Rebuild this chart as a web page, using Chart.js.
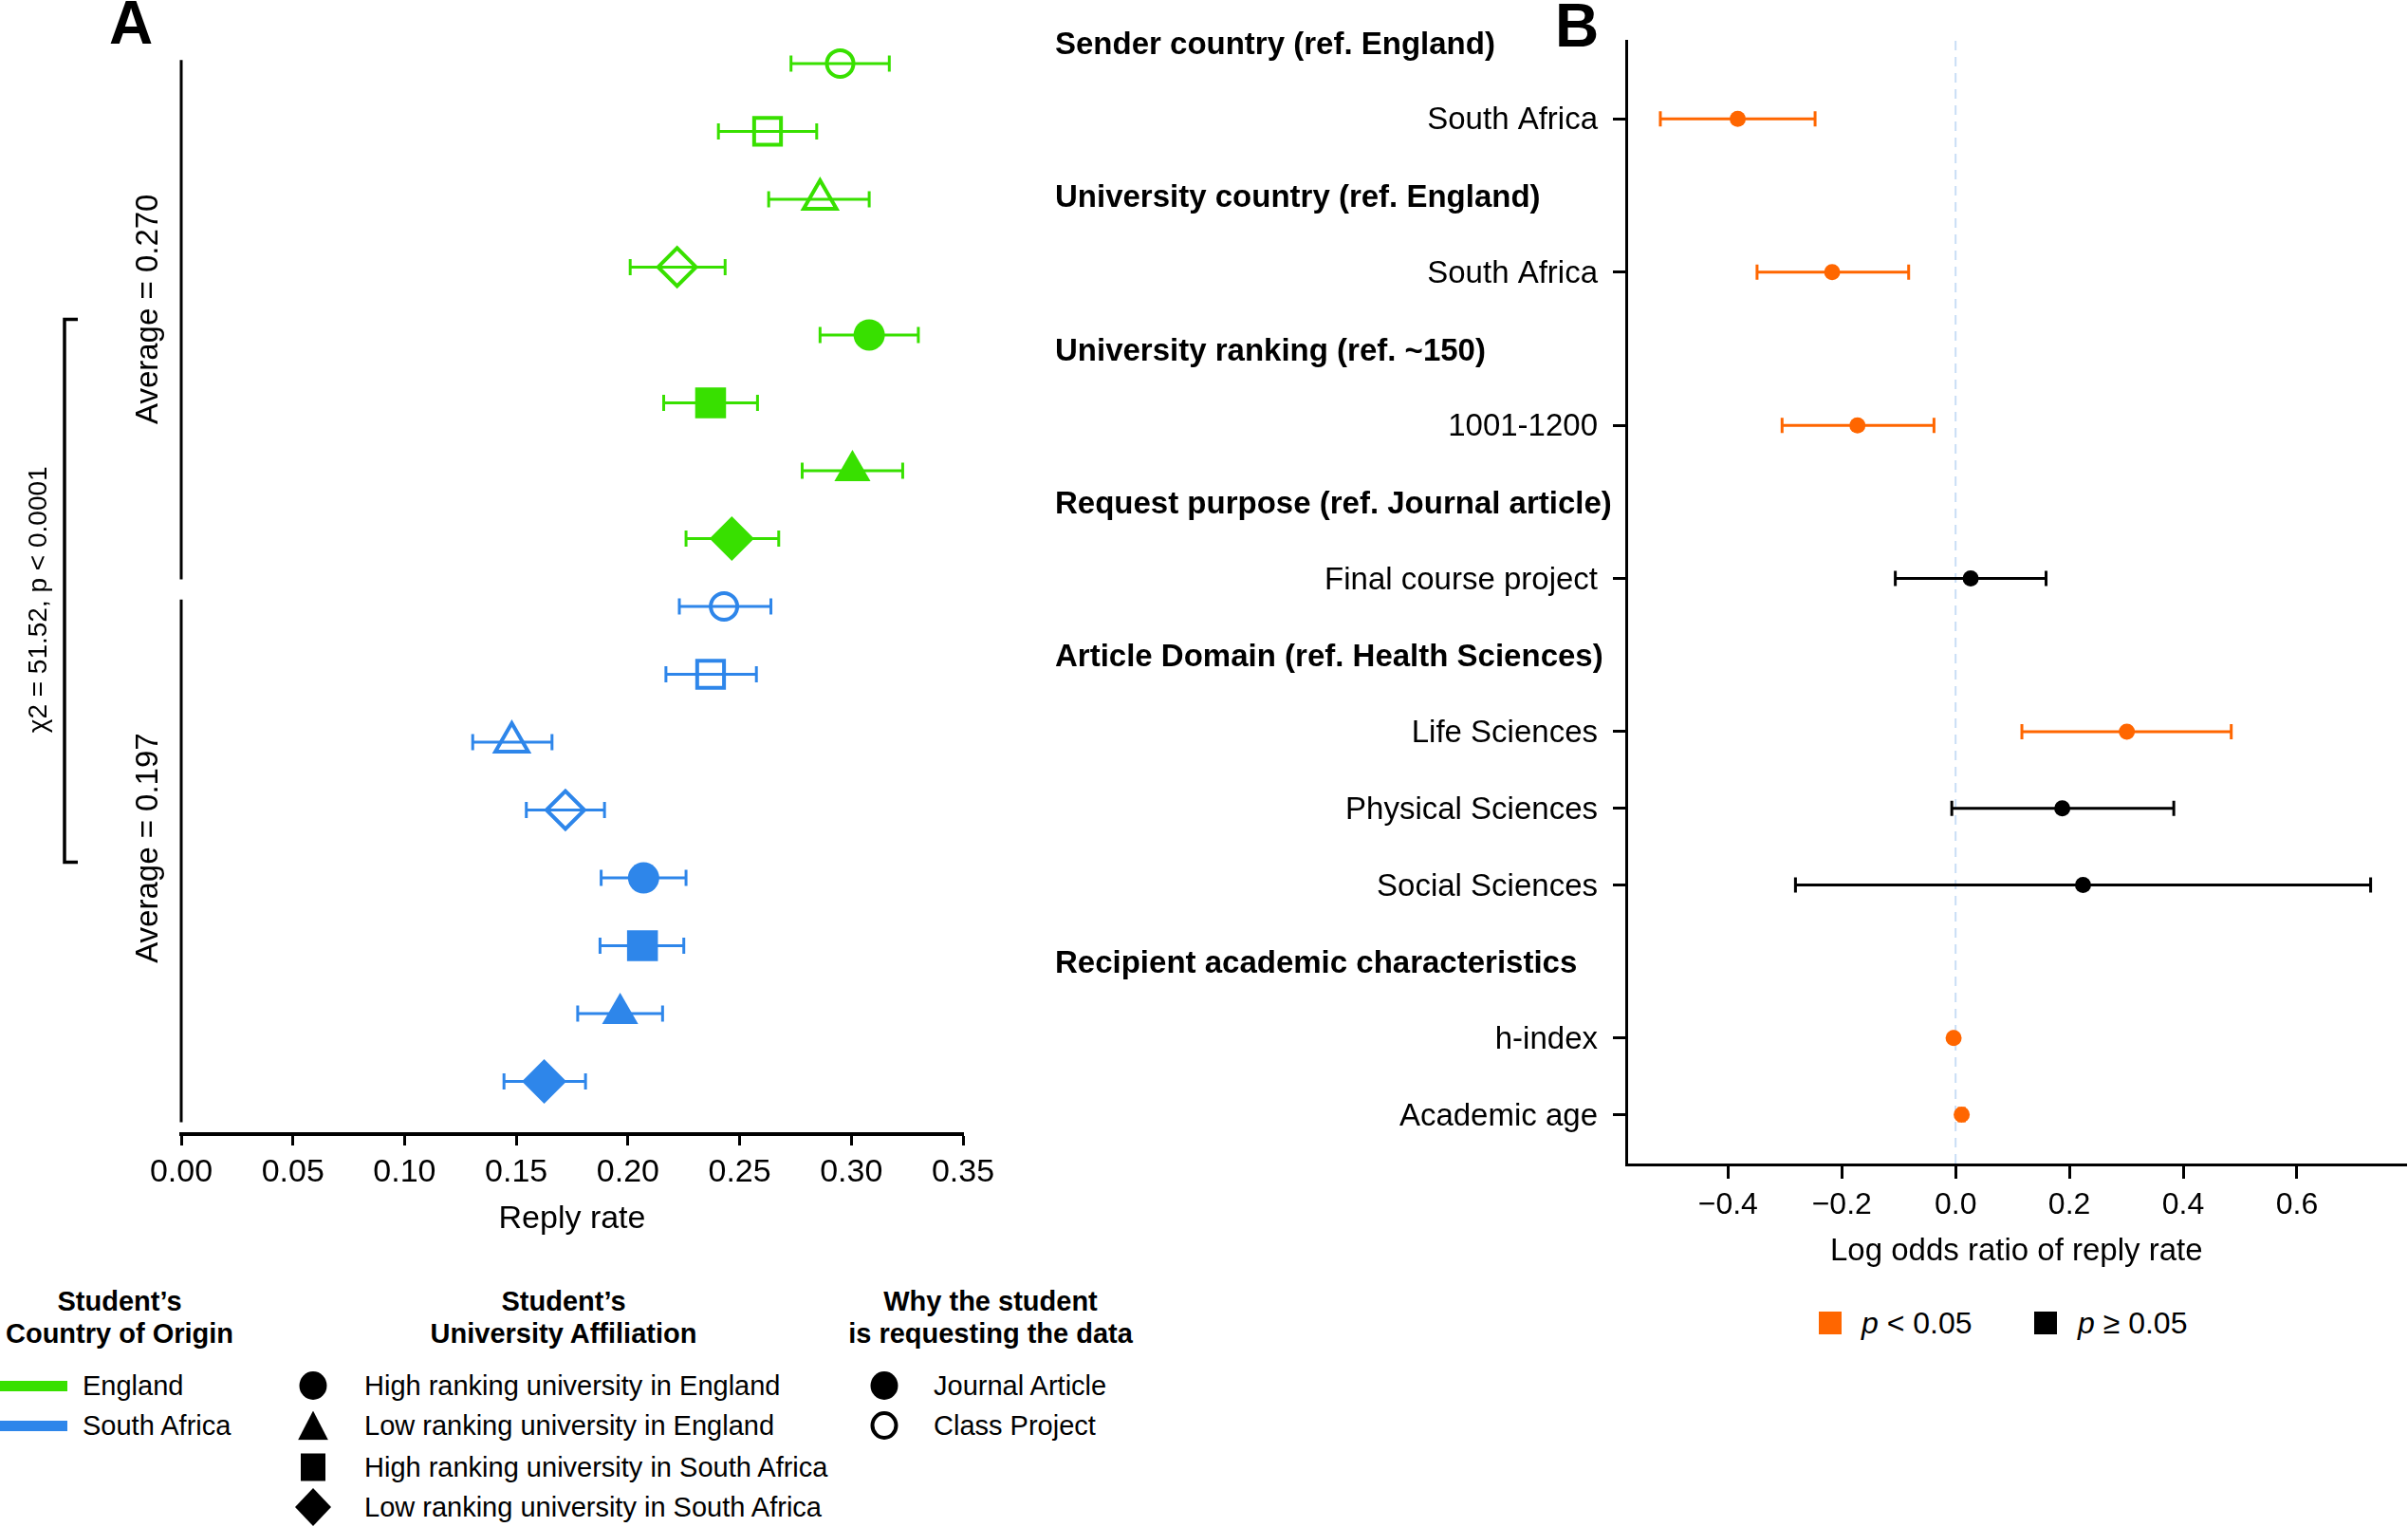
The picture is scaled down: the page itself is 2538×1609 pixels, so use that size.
<!DOCTYPE html>
<html>
<head>
<meta charset="utf-8">
<title>Reply rate to data requests</title>
<script src="https://cdn.jsdelivr.net/npm/chart.js@4.4.1/dist/chart.umd.min.js"></script>
<style>
  html, body { margin: 0; padding: 0; background: #fff; }
  body { position: relative; width: 2538px; height: 1609px; overflow: hidden;
         font-family: 'Liberation Sans', Arial, Helvetica, sans-serif; color: #000; }
  canvas { position: absolute; top: 0; }
  #chart-a { left: 0; }
  #chart-b { left: 1060px; }
  .panel { position: absolute; font-weight: bold; font-size: 64px; line-height: 1; }
  .lg-title { position: absolute; font-size: 29px; font-weight: bold; line-height: 34px;
              text-align: center; white-space: nowrap; transform: translateX(-50%); }
  .lg { position: absolute; font-size: 29px; line-height: 1; white-space: nowrap; transform: translateY(-50%); }
  .mk { position: absolute; transform: translate(-50%, -50%); background: #000; }
  .swatch { position: absolute; }
</style>
</head>
<body>
<canvas id="chart-a" width="1060" height="1308"></canvas>
<canvas id="chart-b" width="1485" height="1340"></canvas>

<div class="panel" style="left:115px;top:-8px">A</div>
<div class="panel" style="left:1639px;top:-5px">B</div>

<!-- legend, panel A -->
<div class="lg-title" style="left:126px;top:1354px">Student’s<br>Country of Origin</div>
<div class="swatch" style="left:0;top:1455px;width:71px;height:11px;background:#38e000"></div>
<div class="lg" style="left:87px;top:1460px">England</div>
<div class="swatch" style="left:0;top:1497px;width:71px;height:11px;background:#2e86ea"></div>
<div class="lg" style="left:87px;top:1502px">South Africa</div>

<div class="lg-title" style="left:594px;top:1354px">Student’s<br>University Affiliation</div>
<div class="mk" style="left:330px;top:1460px;width:29px;height:30px;border-radius:50%"></div>
<div class="lg" style="left:384px;top:1460px">High ranking university in England</div>
<div class="mk" style="left:330px;top:1502px;width:32px;height:31px;clip-path:polygon(50% 0,100% 100%,0 100%)"></div>
<div class="lg" style="left:384px;top:1502px">Low ranking university in England</div>
<div class="mk" style="left:330px;top:1546px;width:26px;height:29px"></div>
<div class="lg" style="left:384px;top:1546px">High ranking university in South Africa</div>
<div class="mk" style="left:330px;top:1588px;width:38px;height:40px;clip-path:polygon(50% 0,100% 50%,50% 100%,0 50%)"></div>
<div class="lg" style="left:384px;top:1588px">Low ranking university in South Africa</div>

<div class="lg-title" style="left:1044px;top:1354px">Why the student<br>is requesting the data</div>
<div class="mk" style="left:932px;top:1460px;width:29px;height:30px;border-radius:50%"></div>
<div class="lg" style="left:984px;top:1460px">Journal Article</div>
<div class="mk" style="left:932px;top:1502px;width:29px;height:30px;border-radius:50%;background:#fff;border:4px solid #000;box-sizing:border-box"></div>
<div class="lg" style="left:984px;top:1502px">Class Project</div>

<!-- legend, panel B -->
<div class="mk" style="left:1929px;top:1394px;width:24px;height:24px;background:#ff6600"></div>
<div class="lg" style="left:1962px;top:1394px;font-size:32px"><i>p</i> &lt; 0.05</div>
<div class="mk" style="left:2156px;top:1394px;width:24px;height:24px"></div>
<div class="lg" style="left:2190px;top:1394px;font-size:32px"><i>p</i> ≥ 0.05</div>

<script>
// ---- Panel A data (rows top to bottom) ----
const senderCountry = ['England', 'England', 'England', 'England', 'England', 'England', 'England', 'England',
  'South Africa', 'South Africa', 'South Africa', 'South Africa', 'South Africa', 'South Africa', 'South Africa', 'South Africa'];
const affiliation = ['HE', 'HS', 'LE', 'LS', 'HE', 'HS', 'LE', 'LS', 'HE', 'HS', 'LE', 'LS', 'HE', 'HS', 'LE', 'LS'];
const purpose = ['Class', 'Class', 'Class', 'Class', 'Journal', 'Journal', 'Journal', 'Journal',
  'Class', 'Class', 'Class', 'Class', 'Journal', 'Journal', 'Journal', 'Journal'];
const replyRate = [0.295, 0.2625, 0.286, 0.222, 0.308, 0.237, 0.3005, 0.2465,
  0.243, 0.237, 0.148, 0.172, 0.207, 0.2065, 0.1965, 0.1625];
const rateLow = [0.273, 0.2405, 0.263, 0.201, 0.286, 0.216, 0.278, 0.226,
  0.223, 0.217, 0.1305, 0.1545, 0.188, 0.1875, 0.1775, 0.1445];
const rateHigh = [0.317, 0.2845, 0.308, 0.2435, 0.330, 0.258, 0.323, 0.2675,
  0.264, 0.2575, 0.166, 0.1895, 0.226, 0.225, 0.2155, 0.181];
const rateTicks = [0, 0.05, 0.10, 0.15, 0.20, 0.25, 0.30, 0.35];
const groupAverage = ['Average = 0.270', 'Average = 0.197'];
const chiLabel = 'χ2 = 51.52, p < 0.0001';

// ---- Panel B data ----
const groupLabels = ['Sender country (ref. England)', 'University country (ref. England)',
  'University ranking (ref. ~150)', 'Request purpose (ref. Journal article)',
  'Article Domain (ref. Health Sciences)', 'Recipient academic characteristics'];
const groupRow = [0, 2, 4, 6, 8, 12];
const termLabels = ['South Africa', 'South Africa', '1001-1200', 'Final course project',
  'Life Sciences', 'Physical Sciences', 'Social Sciences', 'h-index', 'Academic age'];
const termRow = [1, 3, 5, 7, 9, 10, 11, 13, 14];
const logOdds = [-0.383, -0.217, -0.1725, 0.0265, 0.301, 0.1875, 0.224, -0.0035, 0.0107];
const oddsLow = [-0.519, -0.349, -0.305, -0.106, 0.1165, -0.0067, -0.2815, -0.0045, 0.006];
const oddsHigh = [-0.247, -0.0825, -0.038, 0.159, 0.4845, 0.3835, 0.7295, -0.0025, 0.0155];
const significant = [true, true, true, false, true, false, false, true, true];
const oddsTicks = [-0.4, -0.2, 0, 0.2, 0.4, 0.6];

const countryColor = { 'England': '#38e000', 'South Africa': '#2e86ea' };
const shapeOf = { HE: 'circle', LE: 'triangle', HS: 'rect', LS: 'rectRot' };
const filledSize = { HE: 16.5, LE: 22, HS: 23, LS: 23.5 };
const openSize = { HE: 14, LE: 20, HS: 20, LS: 20 };
const FONT = "'Liberation Sans', Arial, Helvetica, sans-serif";

Chart.defaults.font.family = FONT;
Chart.defaults.color = '#000';

// error bars + bracket/annotations for panel A
const panelAExtras = {
  id: 'panelAExtras',
  beforeDatasetsDraw(chart) {
    const { ctx, scales: { x, y } } = chart;
    ctx.save();
    ctx.lineWidth = 3;
    replyRate.forEach((v, i) => {
      const py = y.getPixelForValue(i);
      const x0 = x.getPixelForValue(rateLow[i]);
      const x1 = x.getPixelForValue(rateHigh[i]);
      ctx.strokeStyle = countryColor[senderCountry[i]];
      ctx.beginPath();
      ctx.moveTo(x0, py); ctx.lineTo(x1, py);
      ctx.moveTo(x0, py - 8.5); ctx.lineTo(x0, py + 8.5);
      ctx.moveTo(x1, py - 8.5); ctx.lineTo(x1, py + 8.5);
      ctx.stroke();
    });
    ctx.restore();
  },
  afterDraw(chart) {
    const { ctx, scales: { x, y } } = chart;
    const x0 = x.getPixelForValue(0);
    ctx.save();
    ctx.strokeStyle = '#000';
    ctx.lineWidth = 3;
    // split y axis, one segment per country
    ctx.beginPath();
    ctx.moveTo(x0, y.getPixelForValue(-0.05)); ctx.lineTo(x0, y.getPixelForValue(7.6));
    ctx.moveTo(x0, y.getPixelForValue(7.9)); ctx.lineTo(x0, y.getPixelForValue(15.6));
    ctx.stroke();
    // bracket for the chi-square test
    const bx = x0 - 123;
    const b0 = y.getPixelForValue(3.77), b1 = y.getPixelForValue(11.77);
    ctx.lineWidth = 3.5;
    ctx.beginPath();
    ctx.moveTo(bx + 14, b0); ctx.lineTo(bx, b0); ctx.lineTo(bx, b1); ctx.lineTo(bx + 14, b1);
    ctx.stroke();

    ctx.fillStyle = '#000';
    ctx.textAlign = 'center';
    ctx.textBaseline = 'middle';
    const rotText = (txt, px, py, size) => {
      ctx.save();
      ctx.translate(px, py);
      ctx.rotate(-Math.PI / 2);
      ctx.font = size + 'px ' + FONT;
      ctx.fillText(txt, 0, 0);
      ctx.restore();
    };
    rotText(groupAverage[0], x0 - 34, y.getPixelForValue(3.62), 33);
    rotText(groupAverage[1], x0 - 34, y.getPixelForValue(11.56), 33);
    rotText(chiLabel, x0 - 150, y.getPixelForValue(7.9), 28);
    ctx.restore();
  }
};

// zero line, error bars and group headers for panel B
const panelBExtras = {
  id: 'panelBExtras',
  beforeDatasetsDraw(chart) {
    const { ctx, chartArea, scales: { x, y } } = chart;
    ctx.save();
    const zx = x.getPixelForValue(0);
    ctx.strokeStyle = '#c9def6';
    ctx.lineWidth = 2;
    ctx.setLineDash([10, 7]);
    ctx.beginPath();
    ctx.moveTo(zx, chartArea.top); ctx.lineTo(zx, chartArea.bottom);
    ctx.stroke();
    ctx.setLineDash([]);
    ctx.lineWidth = 3;
    logOdds.forEach((v, i) => {
      const py = y.getPixelForValue(termRow[i]);
      const x0 = x.getPixelForValue(oddsLow[i]);
      const x1 = x.getPixelForValue(oddsHigh[i]);
      ctx.strokeStyle = significant[i] ? '#ff6600' : '#000';
      ctx.beginPath();
      ctx.moveTo(x0, py); ctx.lineTo(x1, py);
      ctx.moveTo(x0, py - 8); ctx.lineTo(x0, py + 8);
      ctx.moveTo(x1, py - 8); ctx.lineTo(x1, py + 8);
      ctx.stroke();
    });
    ctx.restore();
  },
  afterDraw(chart) {
    const { ctx, scales: { y } } = chart;
    ctx.save();
    ctx.fillStyle = '#000';
    ctx.font = 'bold 33px ' + FONT;
    ctx.textAlign = 'left';
    ctx.textBaseline = 'middle';
    groupLabels.forEach((g, i) => ctx.fillText(g, 52, y.getPixelForValue(groupRow[i]) + 3));
    ctx.restore();
  }
};

new Chart(document.getElementById('chart-a'), {
  type: 'scatter',
  data: {
    datasets: [{
      data: replyRate.map((v, i) => ({ x: v, y: i })),
      pointStyle: affiliation.map(a => shapeOf[a]),
      pointRadius: affiliation.map((a, i) => purpose[i] === 'Journal' ? filledSize[a] : openSize[a]),
      pointBackgroundColor: senderCountry.map((c, i) => purpose[i] === 'Journal' ? countryColor[c] : 'rgba(0,0,0,0)'),
      pointBorderColor: senderCountry.map(c => countryColor[c]),
      pointBorderWidth: purpose.map(p => p === 'Journal' ? 0 : 4)
    }]
  },
  options: {
    responsive: false,
    maintainAspectRatio: false,
    animation: false,
    events: [],
    layout: { padding: { left: 191, top: 22, right: 45, bottom: 0 } },
    plugins: { legend: { display: false }, tooltip: { enabled: false } },
    scales: {
      x: {
        type: 'linear', min: 0, max: 0.35,
        afterBuildTicks: s => { s.ticks = rateTicks.map(v => ({ value: v })); },
        afterFit: s => { s.height = 113; },
        ticks: { font: { size: 34 }, padding: 8, maxRotation: 0, callback: v => v.toFixed(2) },
        grid: { drawOnChartArea: false, tickLength: 12, tickWidth: 3, tickColor: '#000' },
        border: { display: true, width: 4, color: '#000' },
        title: { display: true, text: 'Reply rate', font: { size: 34 }, padding: { top: 0, bottom: 3 } }
      },
      y: { type: 'linear', reverse: true, min: -0.6, max: 15.775, display: false }
    }
  },
  plugins: [panelAExtras]
});

new Chart(document.getElementById('chart-b'), {
  type: 'scatter',
  data: {
    datasets: [{
      data: logOdds.map((v, i) => ({ x: v, y: termRow[i] })),
      pointStyle: 'circle',
      pointRadius: 8.5,
      pointBorderWidth: 0,
      pointBackgroundColor: significant.map(s => s ? '#ff6600' : '#000')
    }]
  },
  options: {
    responsive: false,
    maintainAspectRatio: false,
    animation: false,
    events: [],
    layout: { padding: { left: 0, top: 43, right: 0, bottom: 0 } },
    plugins: { legend: { display: false }, tooltip: { enabled: false } },
    scales: {
      x: {
        type: 'linear', min: -0.579, max: 0.7927,
        afterBuildTicks: s => { s.ticks = oddsTicks.map(v => ({ value: v })); },
        afterFit: s => { s.height = 113; },
        ticks: { font: { size: 32 }, padding: 9, maxRotation: 0,
          callback: v => (v < 0 ? '\u2212' : '') + Math.abs(v).toFixed(1) },
        grid: { drawOnChartArea: false, tickLength: 15, tickWidth: 3, tickColor: '#000' },
        border: { display: true, width: 3, color: '#000' },
        title: { display: true, text: 'Log odds ratio of reply rate', font: { size: 33 }, padding: { top: 0, bottom: 1 } }
      },
      y: {
        type: 'linear', reverse: true, min: -0.02, max: 14.65,
        afterBuildTicks: s => { s.ticks = termRow.map(v => ({ value: v })); },
        afterFit: s => { s.width = 654; },
        ticks: { font: { size: 33 }, padding: 16, labelOffset: 2, callback: v => termLabels[termRow.indexOf(v)] },
        grid: { drawOnChartArea: false, tickLength: 14, tickWidth: 3, tickColor: '#000' },
        border: { display: true, width: 3, color: '#000' }
      }
    }
  },
  plugins: [panelBExtras]
});
</script>
</body>
</html>
